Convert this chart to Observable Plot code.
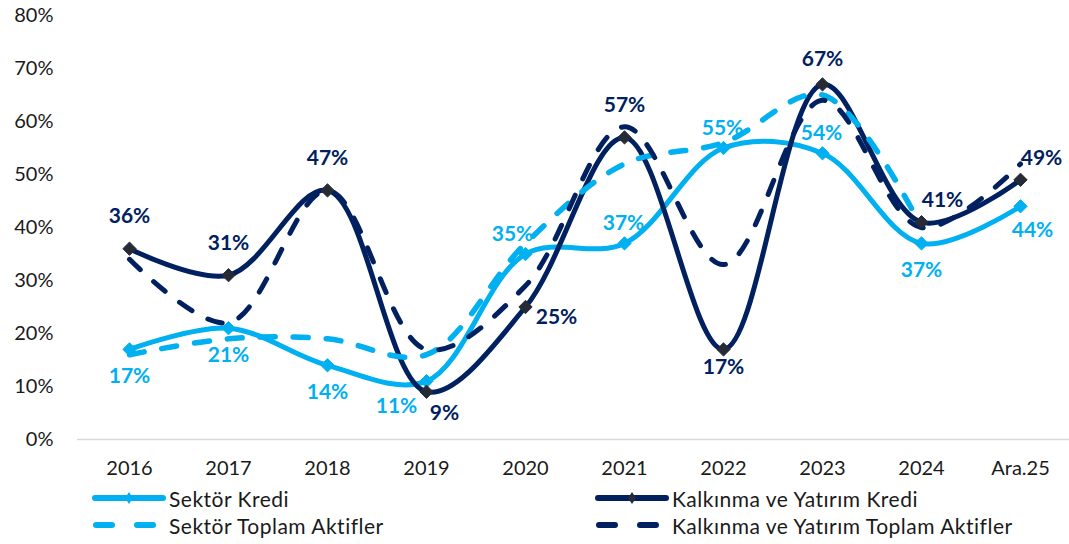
<!DOCTYPE html>
<html>
<head>
<meta charset="utf-8">
<script src="https://cdn.jsdelivr.net/npm/d3@7"></script>
<script src="https://cdn.jsdelivr.net/npm/@observablehq/plot@0.6"></script>
<style>
  html, body { margin: 0; padding: 0; background: #fff; }
  body { width: 1069px; height: 544px; position: relative; overflow: hidden; font-family: Lato, "Open Sans", sans-serif; }
  #chart svg { display: block; }
  .leg { position: absolute; display: flex; align-items: center; font-size: 21px; letter-spacing: 0.5px; color: #1a1a1a; height: 24px; }
  .leg svg { display: block; margin-right: 2px; }
</style>
</head>
<body>
<div id="chart"></div>
<div id="legend"></div>
<script>
// ---- data ----
const years = ["2016", "2017", "2018", "2019", "2020", "2021", "2022", "2023", "2024", "Ara.25"];
const sektorKredi = [17, 21, 14, 11, 35, 37, 55, 54, 37, 44];
const kalkinmaKredi = [36, 31, 47, 9, 25, 57, 17, 67, 41, 49];
const sektorAktif = [16, 19, 19, 16, 37, 52, 56, 65, 40, null];
const kalkinmaAktif = [34, 22, 47, 17, 29, 59, 33, 64, 40, 52];
const yTicks = [0, 10, 20, 30, 40, 50, 60, 70, 80];
const sektorKrediLabelPos = ["below", "below", "below", "belowLeft", "aboveLeft", "above", "above", "above", "below", "belowRight"];
const kalkinmaKrediLabelPos = ["above", "above", "above", "belowRight", "right", "above", "below", "aboveNear", "aboveRight", "aboveRight"];
const seriesNames = ["Sektör Kredi", "Kalkınma ve Yatırım Kredi", "Sektör Toplam Aktifler", "Kalkınma ve Yatırım Toplam Aktifler"];

// ---- styles ----
const LIGHT = "#00B0F0";
const NAVY = "#002060";
const MARK_DARK = "#262B35";
const FONT = "Lato, 'Open Sans', sans-serif";

const toRows = (arr, pos) => arr.map((v, i) => ({year: years[i], v, pos: pos ? pos[i] : null})).filter(d => d.v != null);
const sk = toRows(sektorKredi, sektorKrediLabelPos);
const kk = toRows(kalkinmaKredi, kalkinmaKrediLabelPos);
const sa = toRows(sektorAktif);
const ka = toRows(kalkinmaAktif);

const lightOffsets = {
  below: {dx: 0, dy: 27},
  belowLeft: {dx: -30, dy: 25},
  aboveLeft: {dx: -13, dy: -20},
  above: {dx: -1, dy: -20},
  belowRight: {dx: 12, dy: 24}
};
const navyOffsets = {
  above: {dx: 0, dy: -32},
  aboveNear: {dx: 0, dy: -25},
  belowRight: {dx: 18, dy: 21},
  right: {dx: 31, dy: 10},
  below: {dx: 0, dy: 18},
  aboveRight: {dx: 21, dy: -22}
};

function labelMarks(rows, offsets, color) {
  return Object.entries(offsets).map(([k, o]) =>
    Plot.text(rows.filter(d => d.pos === k), {
      x: "year", y: "v", text: d => d.v + "%",
      dx: o.dx, dy: o.dy, fill: color, fontWeight: "bold", fontSize: 21,
      textAnchor: "middle", lineAnchor: "middle"
    })
  );
}

const chart = Plot.plot({
  width: 1069,
  height: 485,
  marginLeft: 77,
  marginRight: 0,
  marginTop: 15,
  marginBottom: 46,
  style: {fontFamily: FONT, fontSize: "20px", color: "#1a1a1a", background: "#fff"},
  x: {type: "point", domain: years, range: [126, 1023], padding: 0, label: null},
  y: {domain: [0, 80], label: null},
  marks: [
    Plot.ruleY([0], {stroke: "#d9d9d9", strokeWidth: 1.5}),
    Plot.axisY({ticks: yTicks, tickFormat: d => d + "%", tickSize: 0, tickPadding: 24, fontSize: 20, label: null}),
    Plot.axisX({tickSize: 0, tickPadding: 21, fontSize: 20, label: null}),
    Plot.line(sk, {x: "year", y: "v", stroke: LIGHT, strokeWidth: 5, curve: "catmull-rom", strokeLinecap: "round"}),
    Plot.line(kk, {x: "year", y: "v", stroke: NAVY, strokeWidth: 5, curve: "catmull-rom", strokeLinecap: "round"}),
    Plot.line(sa, {x: "year", y: "v", stroke: LIGHT, strokeWidth: 5.5, curve: "catmull-rom", strokeDasharray: "15,18", strokeLinecap: "round"}),
    Plot.line(ka, {x: "year", y: "v", stroke: NAVY, strokeWidth: 5, curve: "catmull-rom", strokeDasharray: "15,18", strokeLinecap: "round"}),
    Plot.dot(sk, {x: "year", y: "v", symbol: "diamond2", r: 6, fill: LIGHT, stroke: LIGHT, strokeWidth: 1}),
    Plot.dot(kk, {x: "year", y: "v", symbol: "diamond2", r: 6, fill: MARK_DARK, stroke: MARK_DARK, strokeWidth: 1}),
    ...labelMarks(sk, lightOffsets, LIGHT),
    ...labelMarks(kk, navyOffsets, NAVY)
  ]
});
document.getElementById("chart").appendChild(chart);

// ---- legend ----
const legendItems = [
  {name: seriesNames[0], color: LIGHT, dash: false, marker: LIGHT, left: 91, top: 486},
  {name: seriesNames[1], color: NAVY, dash: false, marker: MARK_DARK, left: 594, top: 486},
  {name: seriesNames[2], color: LIGHT, dash: true, marker: null, left: 91, top: 513},
  {name: seriesNames[3], color: NAVY, dash: true, marker: null, left: 594, top: 513}
];
const legend = document.getElementById("legend");
for (const it of legendItems) {
  const div = document.createElement("div");
  div.className = "leg";
  div.style.left = it.left + "px";
  div.style.top = it.top + "px";
  const w = 76, h = 24;
  let s = `<svg width="${w}" height="${h}">`;
  if (it.dash) {
    s += `<line x1="5" y1="12" x2="${w - 4}" y2="12" stroke="${it.color}" stroke-width="6" stroke-linecap="round" stroke-dasharray="16,25"/>`;
  } else {
    s += `<line x1="4" y1="12" x2="${w - 4}" y2="12" stroke="${it.color}" stroke-width="6" stroke-linecap="round"/>`;
    s += `<path d="M${w / 2} 6 L${w / 2 + 4} 12 L${w / 2} 18 L${w / 2 - 4} 12 Z" fill="${it.marker}"/>`;
  }
  s += `</svg>`;
  div.innerHTML = s + `<span>${it.name}</span>`;
  legend.appendChild(div);
}
</script>
</body>
</html>
